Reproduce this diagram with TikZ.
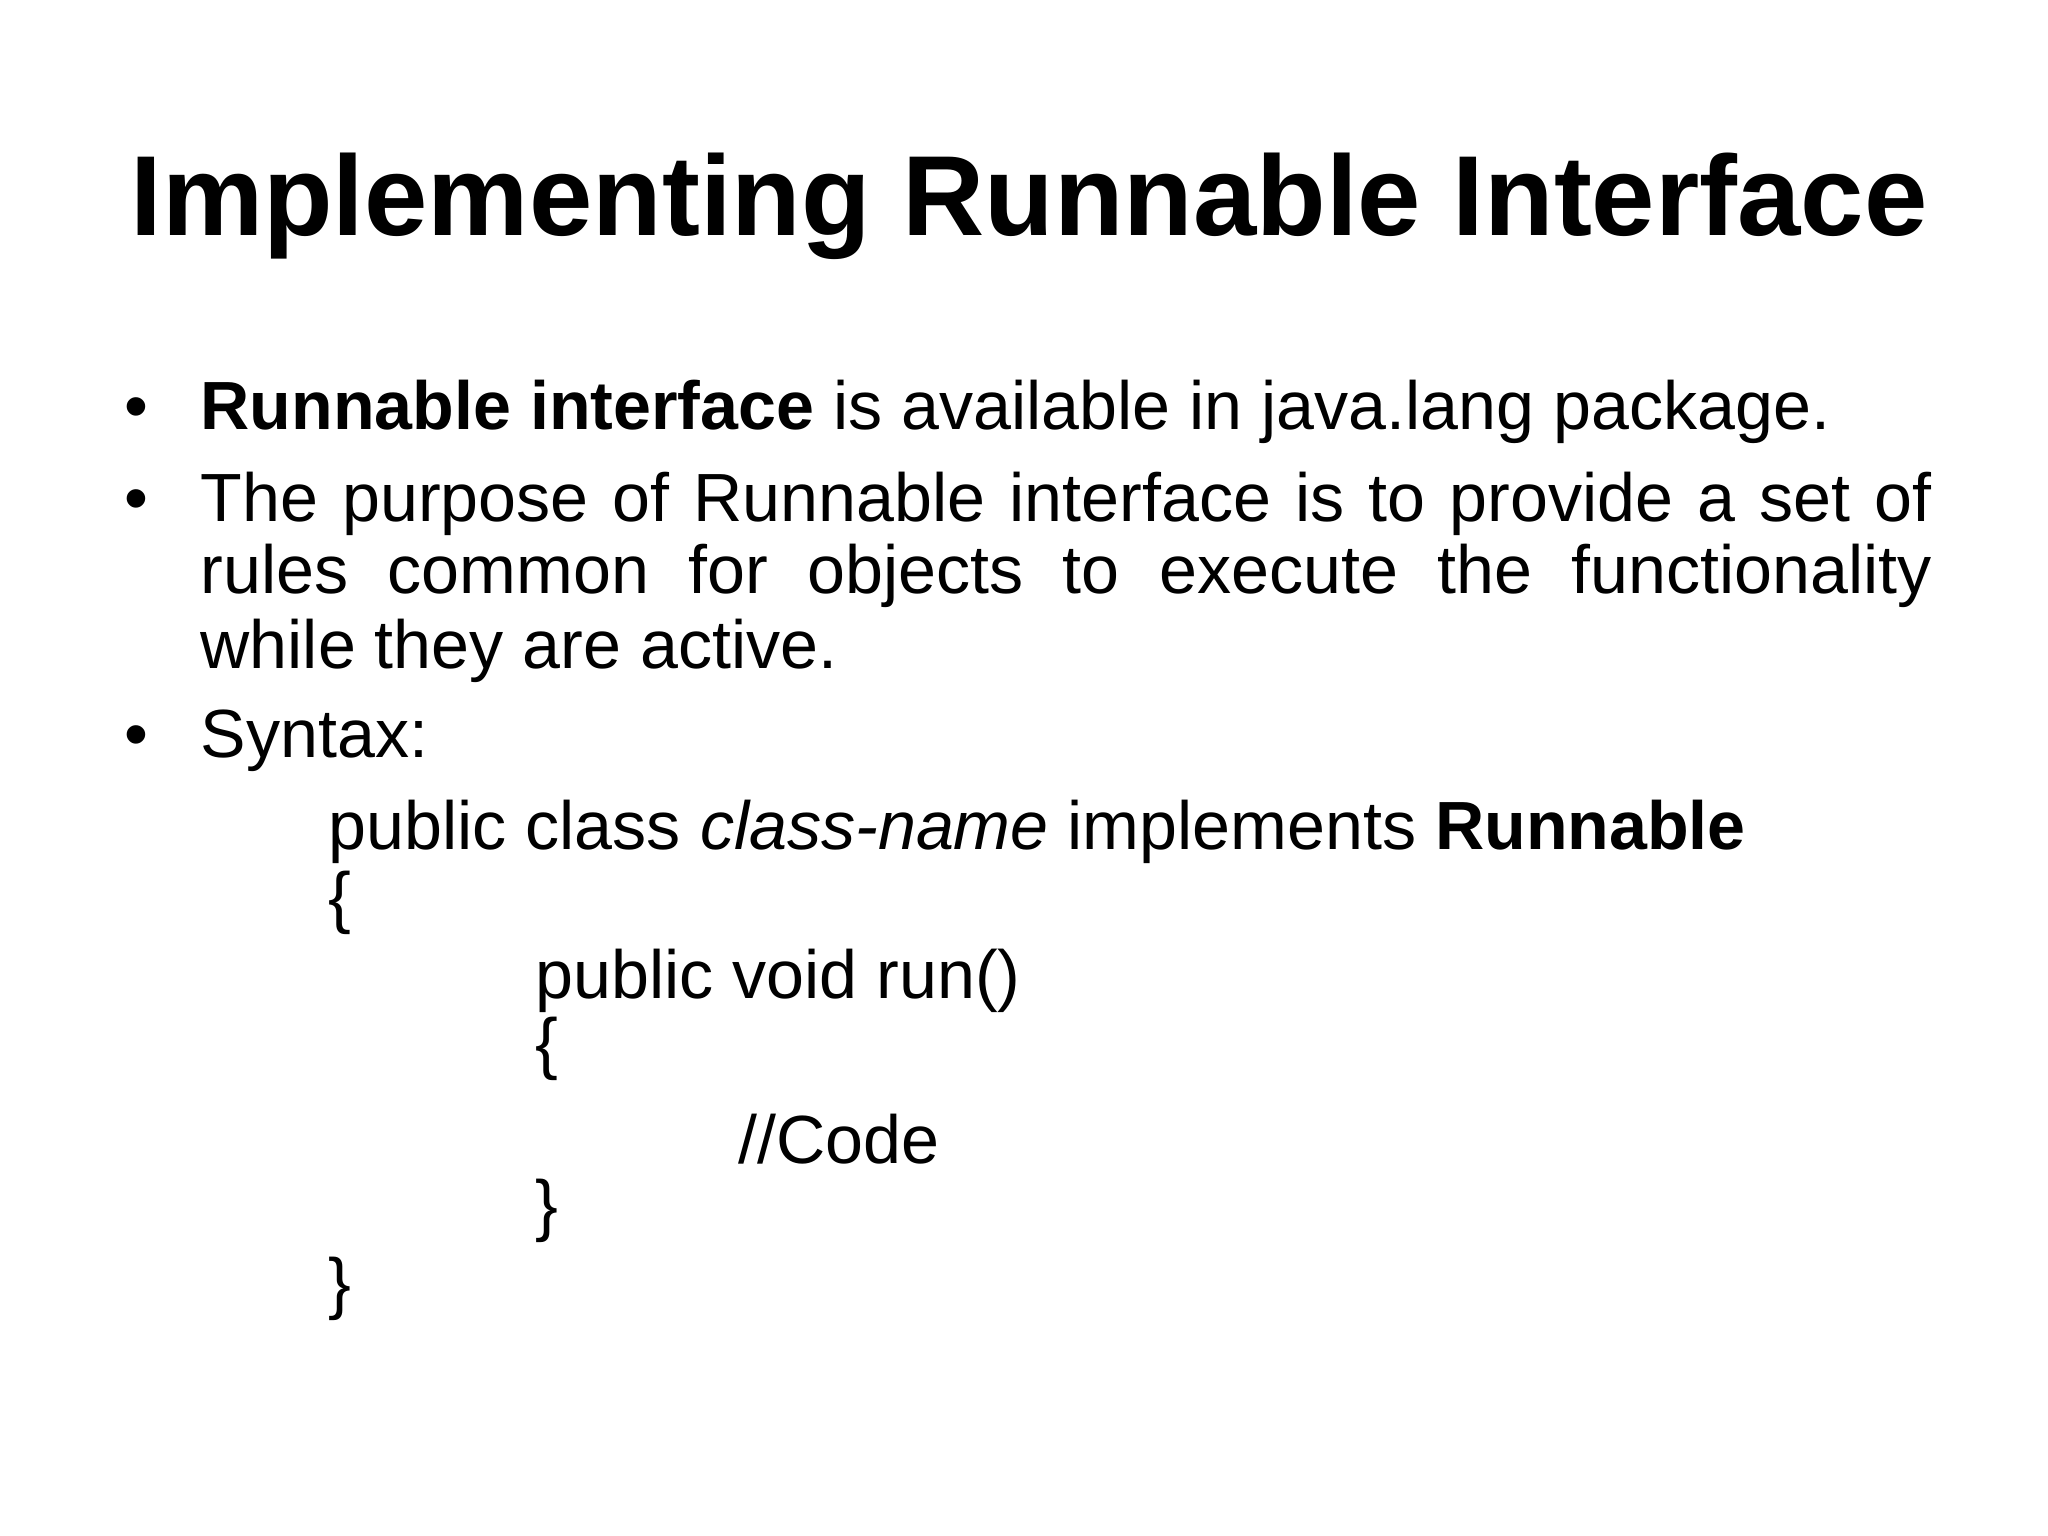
\documentclass[tikz,border=0pt]{standalone}
\usepackage{fontspec}
\setmainfont{Liberation Sans}
\begin{document}
\begin{tikzpicture}[x=1cm,y=1cm,
  txt/.style={anchor=base west,inner sep=0pt,font=\fontsize{19.4pt}{20.7pt}\selectfont}]
\useasboundingbox (0,0) rectangle (20.48,15.36);
\node[anchor=base,inner sep=0pt,font=\fontsize{32.4pt}{36pt}\selectfont\bfseries] (title) at (10.29,13.00) {Implementing Runnable Interface};
\def\Y#1{15.36-#1*0.01311}
\node[txt] (b1) at (1.24,{\Y{328}}) {•};
\node[txt] (l1) at (2.00,{\Y{328}}) {\textbf{Runnable interface} is available in java.lang package.};
\node[txt] (b2) at (1.24,{\Y{398}}) {•};
\node[txt] (l2) at (2.00,{\Y{398}}) {\makebox[17.31cm][s]{The purpose of Runnable interface is to provide a set of}};
\node[txt] (l3) at (2.00,{\Y{453}}) {\makebox[17.31cm][s]{rules common for objects to execute the functionality}};
\node[txt] (l4) at (2.00,{\Y{510}}) {while they are active.};
\node[txt] (b3) at (1.24,{\Y{578}}) {•};
\node[txt] (l5) at (2.00,{\Y{578}}) {Syntax:};
\node[txt] (s1) at (3.28,{\Y{648}}) {public class \textit{class-name} implements \textbf{Runnable}};
\node[txt] (s2) at (3.28,{\Y{702}}) {\{};
\node[txt] (s3) at (5.35,{\Y{762}}) {public void run()};
\node[txt] (s4) at (5.35,{\Y{814}}) {\{};
\node[txt] (s5) at (7.38,{\Y{888}}) {//Code};
\node[txt] (s6) at (5.35,{\Y{937}}) {\}};
\node[txt] (s7) at (3.28,{\Y{997}}) {\}};
\end{tikzpicture}
\end{document}
